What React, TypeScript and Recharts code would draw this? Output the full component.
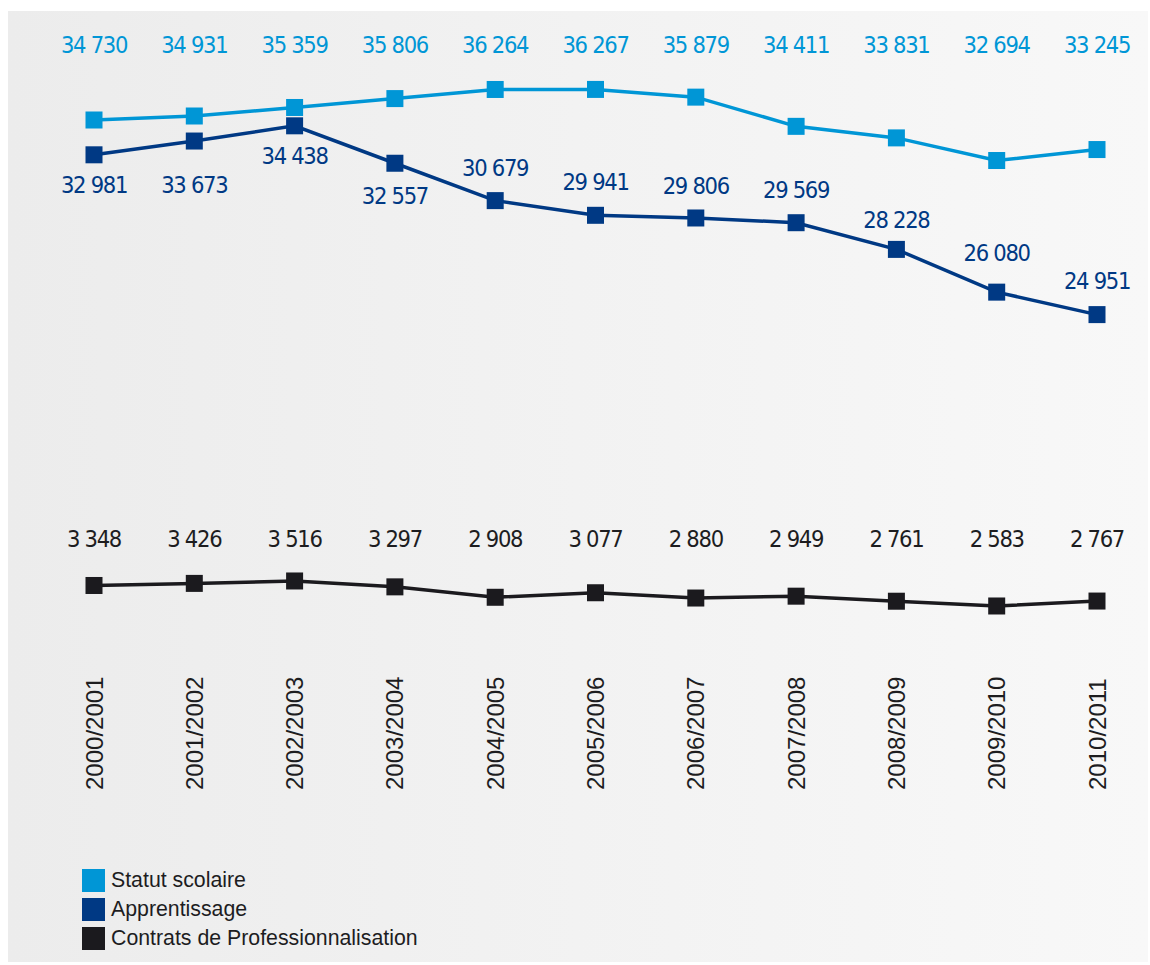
import React from 'react';
import { LineChart, Line, XAxis, YAxis, Legend, LabelList } from 'recharts';

const years = [
  '2000/2001', '2001/2002', '2002/2003', '2003/2004', '2004/2005', '2005/2006',
  '2006/2007', '2007/2008', '2008/2009', '2009/2010', '2010/2011',
];
const statutScolaire = [34730, 34931, 35359, 35806, 36264, 36267, 35879, 34411, 33831, 32694, 33245];
const apprentissage = [32981, 33673, 34438, 32557, 30679, 29941, 29806, 29569, 28228, 26080, 24951];
const contratsPro = [3348, 3426, 3516, 3297, 2908, 3077, 2880, 2949, 2761, 2583, 2767];

const seriesNames = ['Statut scolaire', 'Apprentissage', 'Contrats de Professionnalisation'];

const data = years.map((year, i) => ({
  year,
  scolaire: statutScolaire[i],
  apprentissage: apprentissage[i],
  contrats: contratsPro[i],
}));

// layout / styles
const COLOR_LIGHT = '#0096d6';
const COLOR_DARK = '#003984';
const COLOR_BLACK = '#1b1a1e';
const VALUE_FONT = "'Liberation Sans Narrow', 'DejaVu Sans Condensed', 'Liberation Sans', sans-serif";
const TEXT_FONT = "'Liberation Sans', Arial, sans-serif";
const VALUE_SIZE = 23.5;
const VALUE_SPACING = -1.3;
const TOP_ROW_Y = 45;
const BLACK_ROW_Y = 539;
const DARK_LABEL_DY = [30, 44, 30, 33, -33, -33, -32, -33, -29, -39, -34];

const fmt = (v: number) => String(v).replace(/\B(?=(\d{3})+(?!\d))/g, ' ');

const SquareDot = (color: string) => (props: any) => {
  const { cx, cy } = props;
  if (cx == null || cy == null) return null;
  return <rect x={cx - 8.5} y={cy - 8.5} width={17} height={17} fill={color} />;
};

const YearTick = (props: any) => {
  const { x, y, payload } = props;
  const ty = y + 150;
  return (
    <text
      x={x}
      y={ty}
      transform={`rotate(-90 ${x} ${ty})`}
      textAnchor="start"
      dominantBaseline="central"
      fill="#1d1d1f"
      fontSize={24}
      fontFamily={TEXT_FONT}
    >
      {payload.value}
    </text>
  );
};

const ValueText = ({ x, y, color, value }: any) => (
  <text x={x} y={y} textAnchor="middle" dominantBaseline="central" fill={color}
    fontSize={VALUE_SIZE} letterSpacing={VALUE_SPACING} fontFamily={VALUE_FONT}>
    {fmt(value)}
  </text>
);

const rowLabel = (color: string, rowY: number) => (props: any) => {
  const { x, value } = props;
  return <ValueText x={x} y={rowY} color={color} value={value} />;
};

const darkLabel = (props: any) => {
  const { x, y, value, index } = props;
  return <ValueText x={x} y={y + DARK_LABEL_DY[index]} color={COLOR_DARK} value={value} />;
};

const LegendContent = (props: any) => {
  const items = [...(props.payload || [])].sort(
    (a: any, b: any) => seriesNames.indexOf(a.value) - seriesNames.indexOf(b.value),
  );
  return (
    <div style={{ fontFamily: TEXT_FONT, fontSize: 21.3, color: '#1d1d1f' }}>
      {items.map((entry: any) => (
        <div key={entry.value} style={{ display: 'flex', alignItems: 'center', height: 29 }}>
          <span style={{ display: 'inline-block', width: 23, height: 23, background: entry.color, marginRight: 6 }} />
          <span style={{ lineHeight: '23px' }}>{entry.value}</span>
        </div>
      ))}
    </div>
  );
};

export default function App() {
  return (
    <div style={{ position: 'absolute', left: 0, top: 0, width: 1150, height: 965 }}>
      <div
        style={{
          position: 'absolute', left: 8, top: 11, width: 1140, height: 951,
          background: 'linear-gradient(to right, #ececec, #f8f8f8)',
        }}
      />
      <div style={{ position: 'absolute', left: 0, top: 0 }}>
        <LineChart width={1150} height={965} data={data}
          margin={{ top: 40, right: 53, bottom: 165, left: 94 }}>
          <XAxis dataKey="year" height={160} axisLine={false} tickLine={false} tickSize={0}
            tickMargin={0} tick={<YearTick />} interval={0} />
          <YAxis yAxisId="a" hide domain={[8600, 38750]} allowDataOverflow />
          <YAxis yAxisId="b" hide domain={[1314, 23700]} allowDataOverflow />
          <Legend layout="vertical" align="center" verticalAlign="middle"
            wrapperStyle={{ left: 82, top: 866, width: 400 }} content={<LegendContent />} />
          <Line yAxisId="a" name={seriesNames[0]} dataKey="scolaire" stroke={COLOR_LIGHT} strokeWidth={3.5}
            dot={SquareDot(COLOR_LIGHT)} activeDot={false} isAnimationActive={false}>
            <LabelList dataKey="scolaire" content={rowLabel(COLOR_LIGHT, TOP_ROW_Y)} />
          </Line>
          <Line yAxisId="a" name={seriesNames[1]} dataKey="apprentissage" stroke={COLOR_DARK} strokeWidth={3.5}
            dot={SquareDot(COLOR_DARK)} activeDot={false} isAnimationActive={false}>
            <LabelList dataKey="apprentissage" content={darkLabel} />
          </Line>
          <Line yAxisId="b" name={seriesNames[2]} dataKey="contrats" stroke={COLOR_BLACK} strokeWidth={3.5}
            dot={SquareDot(COLOR_BLACK)} activeDot={false} isAnimationActive={false}>
            <LabelList dataKey="contrats" content={rowLabel('#1d1d1f', BLACK_ROW_Y)} />
          </Line>
        </LineChart>
      </div>
    </div>
  );
}
